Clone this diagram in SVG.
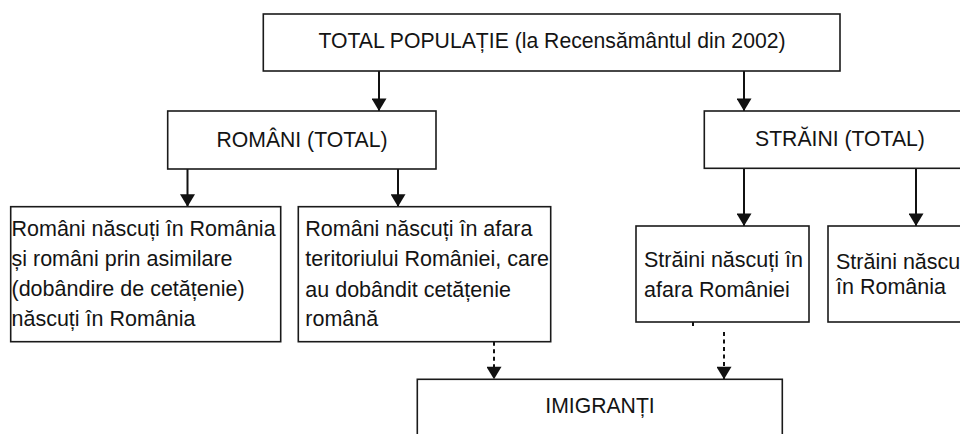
<svg xmlns="http://www.w3.org/2000/svg" width="960" height="434" viewBox="0 0 960 434">
  <defs>
    <style>
      .box { fill: #ffffff; stroke: #1a1a1a; stroke-width: 1.6; }
      .t { font-family: "Liberation Sans", Arial, sans-serif; font-size: 21.5px; fill: #141414; }
      .h { font-size: 21.2px; }
      .mid { text-anchor: middle; }
      .conn { stroke: #111111; stroke-width: 2; fill: none; }
      .dash { stroke-dasharray: 4 3.5; }
    </style>
    <marker id="arrow" markerUnits="userSpaceOnUse" markerWidth="14" markerHeight="15" viewBox="0 -7.2 12 14.4" refX="12" refY="0" orient="auto">
      <path d="M0,-7.2 L12,0 L0,7.2 Z" fill="#111111"/>
    </marker>
  </defs>
  <rect width="960" height="434" fill="#ffffff"/>

  <g id="connectors">
    <line class="conn" x1="379" y1="71" x2="379" y2="111" marker-end="url(#arrow)"/>
    <line class="conn" x1="744" y1="71" x2="744" y2="111" marker-end="url(#arrow)"/>
    <line class="conn" x1="187.5" y1="169" x2="187.5" y2="206.7" marker-end="url(#arrow)"/>
    <line class="conn" x1="398" y1="169" x2="398" y2="206.7" marker-end="url(#arrow)"/>
    <line class="conn" x1="744" y1="168.3" x2="744" y2="226" marker-end="url(#arrow)"/>
    <line class="conn" x1="916" y1="168.3" x2="916" y2="226" marker-end="url(#arrow)"/>
    <line class="conn dash" x1="494" y1="341.7" x2="494" y2="379.3" marker-end="url(#arrow)"/>
    <line class="conn dash" x1="724" y1="332" x2="724" y2="379.3" marker-end="url(#arrow)"/>
    <line class="conn" x1="693" y1="322" x2="693" y2="326"/>
  </g>

  <g id="total">
    <rect class="box" x="263.3" y="14" width="576.7" height="57"/>
    <text class="t h mid" x="552" y="47.7">TOTAL POPULAȚIE (la Recensământul din 2002)</text>
  </g>

  <g id="romani-total">
    <rect class="box" x="167.7" y="111" width="268.3" height="58"/>
    <text class="t h mid" x="302" y="146.5">ROMÂNI (TOTAL)</text>
  </g>

  <g id="straini-total">
    <rect class="box" x="704.3" y="111" width="262" height="57.3"/>
    <text class="t h" x="755" y="145.5">STRĂINI (TOTAL)</text>
  </g>

  <g id="romani-nascuti-romania">
    <rect class="box" x="10.7" y="206.7" width="270" height="135"/>
    <text class="t" x="11.5" y="236">Români născuți în România</text>
    <text class="t" x="11.5" y="266">și români prin asimilare</text>
    <text class="t" x="11.5" y="296">(dobândire de cetățenie)</text>
    <text class="t" x="11.5" y="326">născuți în România</text>
  </g>

  <g id="romani-nascuti-afara">
    <rect class="box" x="298.3" y="206.7" width="252.4" height="135"/>
    <text class="t" x="305.3" y="236">Români născuți în afara</text>
    <text class="t" x="305.3" y="266">teritoriului României, care</text>
    <text class="t" x="305.3" y="296.5">au dobândit cetățenie</text>
    <text class="t" x="305.3" y="326">română</text>
  </g>

  <g id="straini-nascuti-afara">
    <rect class="box" x="636" y="226" width="173" height="96"/>
    <text class="t" x="644" y="267.3">Străini născuți în</text>
    <text class="t" x="644" y="296.7">afara României</text>
  </g>

  <g id="straini-nascuti-romania">
    <rect class="box" x="828" y="226" width="140" height="96"/>
    <text class="t" x="836" y="269">Străini născuți</text>
    <text class="t" x="836" y="294">în România</text>
  </g>

  <g id="imigranti">
    <rect class="box" x="417.3" y="379.3" width="365" height="70"/>
    <text class="t h mid" x="600" y="413.3">IMIGRANȚI</text>
  </g>
</svg>
